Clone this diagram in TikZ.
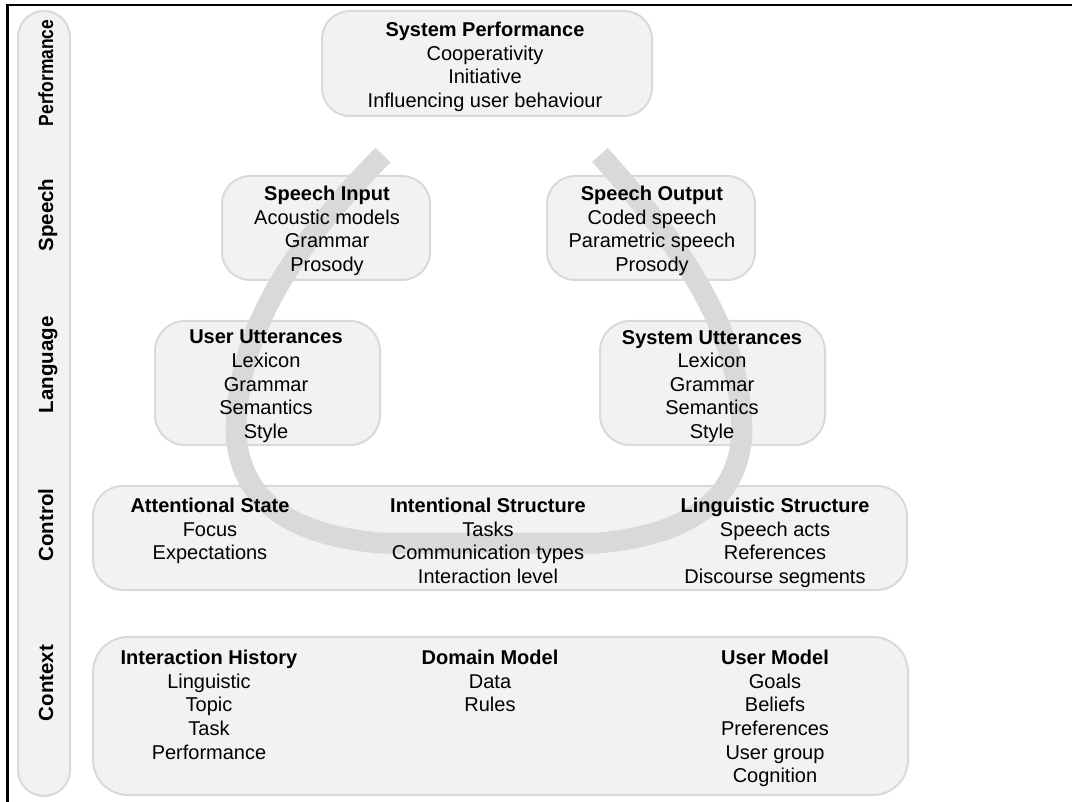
\documentclass[tikz,border=0pt]{standalone}
\usepackage{fontspec}
\setmainfont{Liberation Sans}
\usepackage{graphicx}
\definecolor{boxfill}{HTML}{F2F2F2}
\definecolor{boxline}{HTML}{D9D9D9}
\definecolor{arcgray}{HTML}{D9D9D9}
\tikzset{
  panel/.style={draw=boxline, line width=2pt, fill=boxfill, inner sep=0pt},
  txt/.style={anchor=north, inner sep=0pt, align=center,
              font=\fontsize{20}{23.6}\selectfont},
  side/.style={rotate=90, anchor=base, inner sep=0pt,
               font=\fontsize{20.5}{24}\selectfont\bfseries},
  loop/.style={draw=arcgray, line width=21pt}
}
\begin{document}
\begin{tikzpicture}[x=1pt,y=-1pt]
\useasboundingbox (0,0) rectangle (1072,802);
% frame
\coordinate (fbl) at (7.5,802);
\coordinate (ftl) at (7.5,5);
\coordinate (ftr) at (1072,5);
\draw[line width=2.6pt] (fbl) -- (ftl) -- (ftr);
% side bar
\node[panel, rounded corners=26, minimum width=52, minimum height=785] (sidebar) at (44,403.5) {};
\node[side] (lperf) at (53,73) {\scalebox{0.85}[1]{Performance}};
\node[side] (lspeech) at (53,215) {Speech};
\node[side] (llang) at (53,365) {Language};
\node[side] (lctrl) at (53,525) {Control};
\node[side] (lctx) at (53,683) {Context};
% boxes
\node[panel, rounded corners=28, minimum width=330, minimum height=105] (sysperf) at (487,63.5) {};
\node[panel, rounded corners=28, minimum width=208, minimum height=104] (spin) at (326,228) {};
\node[panel, rounded corners=28, minimum width=208, minimum height=104] (spout) at (651,228) {};
\node[panel, rounded corners=30, minimum width=225, minimum height=124] (uu) at (267.5,383) {};
\node[panel, rounded corners=30, minimum width=225, minimum height=124] (su) at (712.5,383) {};
\node[panel, rounded corners=30, minimum width=814, minimum height=104] (ctrl) at (500,538) {};
\node[panel, rounded corners=35, minimum width=815, minimum height=158] (ctx) at (500.5,716) {};
% loop band
\coordinate (lstart) at (383,155);
\coordinate (rend) at (600,155);
\draw[loop] (lstart) .. controls (290,250) and (238,330) .. (236,430)
  .. controls (238,500) and (290,535) .. (380,543)
  -- (598,543)
  .. controls (688,535) and (740,500) .. (742,430)
  .. controls (740,330) and (685,250) .. (rend);
% texts
\node[txt] (tsysperf) at (485,22) {\textbf{System Performance}\\Cooperativity\\Initiative\\Influencing user behaviour};
\node[txt] (tspin) at (327,186) {\textbf{Speech Input}\\Acoustic models\\Grammar\\Prosody};
\node[txt] (tspout) at (652,186) {\textbf{Speech Output}\\Coded speech\\Parametric speech\\Prosody};
\node[txt] (tuu) at (266,330) {\textbf{User Utterances}\\Lexicon\\Grammar\\Semantics\\Style};
\node[txt] (tsu) at (712,330) {\textbf{System Utterances}\\Lexicon\\Grammar\\Semantics\\Style};
\node[txt] (tatt) at (210,498) {\textbf{Attentional State}\\Focus\\Expectations};
\node[txt] (tint) at (488,498) {\textbf{Intentional Structure}\\Tasks\\Communication types\\Interaction level};
\node[txt] (tling) at (775,498) {\textbf{Linguistic Structure}\\Speech acts\\References\\Discourse segments};
\node[txt] (tih) at (209,650) {\textbf{Interaction History}\\Linguistic\\Topic\\Task\\Performance};
\node[txt] (tdm) at (490,650) {\textbf{Domain Model}\\Data\\Rules};
\node[txt] (tum) at (775,650) {\textbf{User Model}\\Goals\\Beliefs\\Preferences\\User group\\Cognition};
\end{tikzpicture}
\end{document}
